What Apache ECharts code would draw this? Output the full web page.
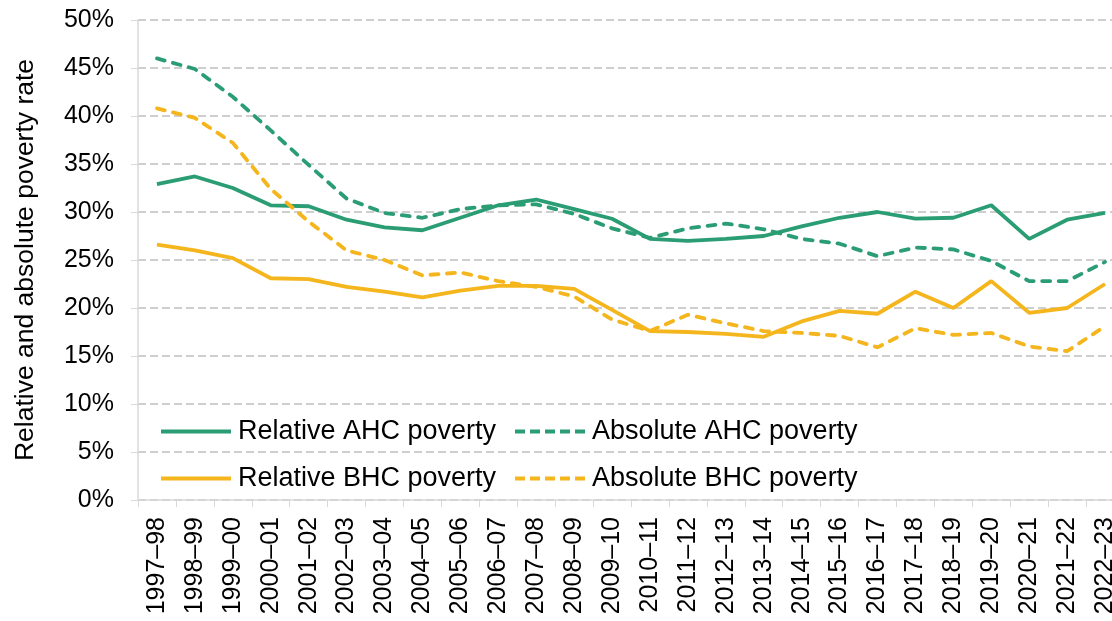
<!DOCTYPE html>
<html><head><meta charset="utf-8">
<script src="https://cdn.jsdelivr.net/npm/echarts@6/dist/echarts.min.js"></script>
<style>html,body{margin:0;padding:0;background:#fff;overflow:hidden}#c{width:1124px;height:621px}</style>
</head><body><div id="c"></div>
<script>
const years = ['1997–98','1998–99','1999–00','2000–01','2001–02','2002–03','2003–04','2004–05','2005–06','2006–07','2007–08','2008–09','2009–10','2010–11','2011–12','2012–13','2013–14','2014–15','2015–16','2016–17','2017–18','2018–19','2019–20','2020–21','2021–22','2022–23'];
const relAHC = [32.9,33.7,32.5,30.7,30.6,29.2,28.4,28.1,29.4,30.7,31.3,30.3,29.3,27.2,27.0,27.2,27.5,28.5,29.4,30.0,29.3,29.4,30.7,27.2,29.2,29.9];
const absAHC = [46.0,44.9,42.0,38.5,34.9,31.4,29.9,29.4,30.3,30.7,30.8,29.8,28.3,27.3,28.3,28.8,28.2,27.2,26.7,25.4,26.3,26.1,24.9,22.8,22.8,24.8];
const relBHC = [26.6,26.0,25.2,23.1,23.0,22.2,21.7,21.1,21.8,22.3,22.3,22.0,19.8,17.6,17.5,17.3,17.0,18.6,19.7,19.4,21.7,20.0,22.8,19.5,20.0,22.5];
const absBHC = [40.8,39.8,37.2,32.4,29.0,26.0,25.0,23.4,23.7,22.8,22.2,21.2,18.8,17.6,19.3,18.4,17.6,17.4,17.1,15.9,17.9,17.2,17.4,16.0,15.5,18.1];
const names = ['Relative AHC poverty','Absolute AHC poverty','Relative BHC poverty','Absolute BHC poverty'];
const green = '#2b9d74', yellow = '#f4b51d';
const font = 'Liberation Sans, Arial, sans-serif';
const solidIcon = 'path://M0,0h70v4h-70z';
const dashIcon = 'path://M0,0h10v4h-10z M15,0h10v4h-10z M30,0h10v4h-10z M45,0h10v4h-10z M60,0h10v4h-10z';
const chart = echarts.init(document.getElementById('c'));
function leg(name, icon, left, top){
  return {data:[{name:name, icon:icon}], left:left, top:top, padding:0, itemWidth:70, itemHeight:27, itemGap:0,
    textStyle:{fontFamily:font, fontSize:27, color:'#000', padding:[0,0,0,2]}, selectedMode:false};
}
function ser(name, data, color, dashed){
  return {name:name, type:'line', data:data, symbol:'none', smooth:false,
    lineStyle:{color:color, width:3.8, type: dashed ? [8,8.5] : 'solid', cap: dashed ? 'round' : 'butt'}, itemStyle:{color:color}};
}
chart.setOption({
  animation:false,
  grid:{left:138, right:0, top:20, bottom:121},
  legend:[leg(names[0],solidIcon,161,418), leg(names[1],dashIcon,515,418), leg(names[2],solidIcon,161,465), leg(names[3],dashIcon,515,465)],
  xAxis:{type:'category', data:years, boundaryGap:true,
    axisLine:{lineStyle:{color:'#d9d9d9', width:1.5}},
    axisTick:{show:true, length:7, lineStyle:{color:'#d9d9d9'}},
    axisLabel:{rotate:90, interval:0, fontFamily:font, fontSize:25, color:'#000', margin:17}},
  yAxis:{type:'value', min:0, max:50, interval:5,
    name:'Relative and absolute poverty rate', nameLocation:'middle', nameGap:99,
    nameTextStyle:{fontFamily:font, fontSize:26.5, color:'#000'},
    axisLine:{show:true, lineStyle:{color:'#d9d9d9', width:1.5}},
    axisTick:{show:true, length:7, lineStyle:{color:'#d9d9d9'}},
    axisLabel:{formatter:'{value}%', fontFamily:font, fontSize:25, color:'#000', margin:24},
    splitLine:{lineStyle:{color:'#bfbfbf', width:1.5, type:[8,4]}}},
  series:[ser(names[0],relAHC,green,false), ser(names[1],absAHC,green,true),
          ser(names[2],relBHC,yellow,false), ser(names[3],absBHC,yellow,true)]
});
</script></body></html>
